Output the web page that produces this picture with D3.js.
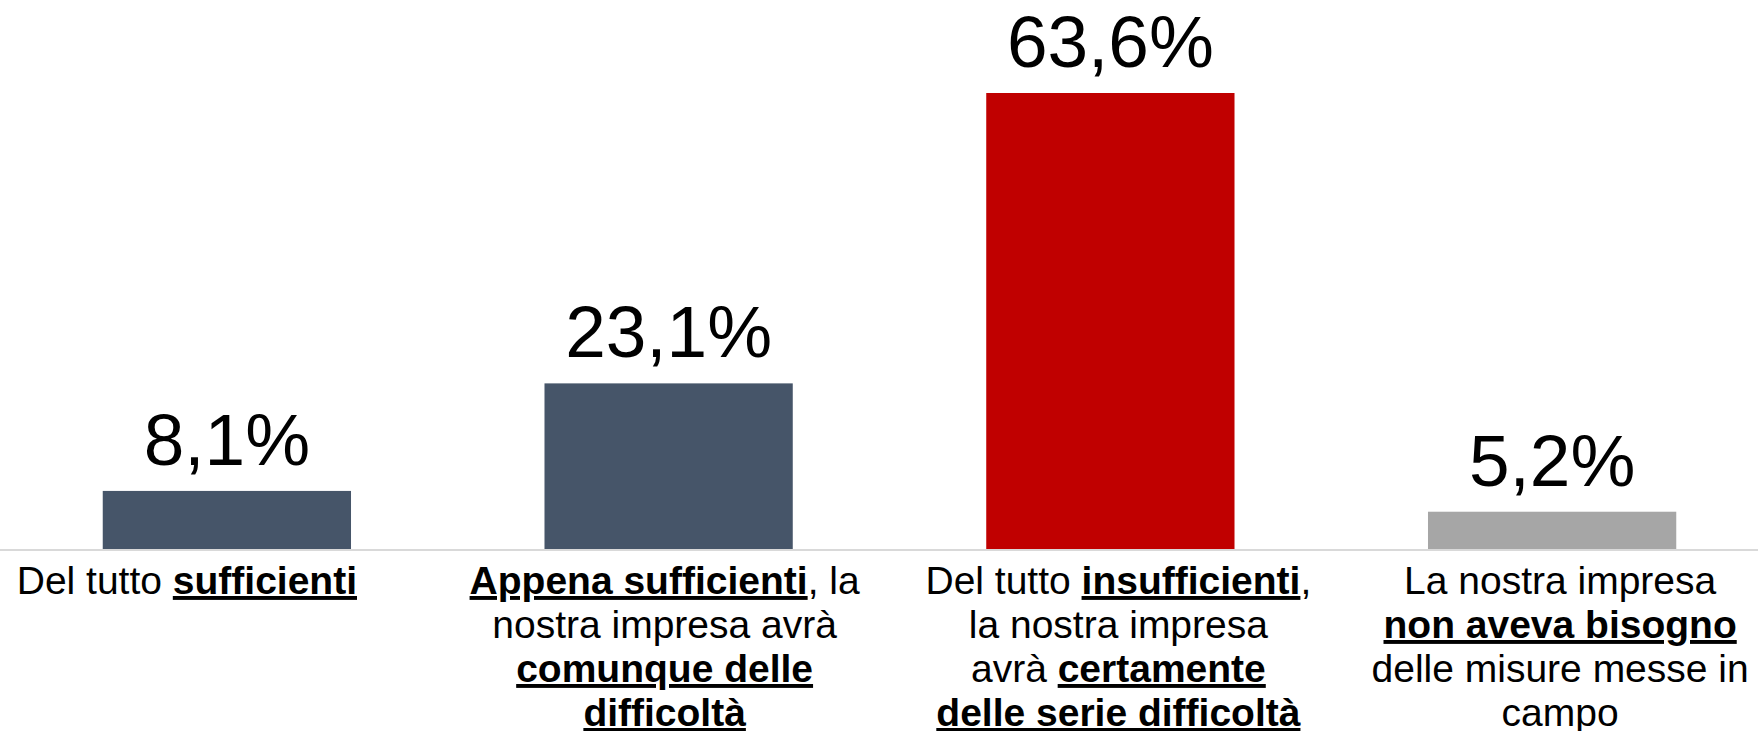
<!DOCTYPE html>
<html>
<head>
<meta charset="utf-8">
<script src="https://cdn.jsdelivr.net/npm/d3@7"></script>
<style>
  html, body { margin: 0; padding: 0; background: #fff; overflow: hidden; }
  svg { display: block; font-family: "Liberation Sans", Arial, sans-serif; }
  .value { font-size: 73px; fill: #000; }
  .cat { font-size: 39px; fill: #000; }
  .cat .b { font-weight: bold; text-decoration: underline; }
</style>
</head>
<body>
<div id="chart"></div>
<script>
// data
const categories = ["sufficienti", "appena", "insufficienti", "nonBisogno"]
const values = [8.1, 23.1, 63.6, 5.2]
const valueLabels = ["8,1%", "23,1%", "63,6%", "5,2%"]
const barColors = ["#465569", "#465569", "#C00000", "#A6A6A6"]

// category labels: lines of [text, bold]
const labelLines = [
  [[["Del tutto ", false], ["sufficienti", true]]],
  [[["Appena sufficienti", true], [", la", false]],
   [["nostra impresa avrà", false]],
   [["comunque delle", true]],
   [["difficoltà", true]]],
  [[["Del tutto ", false], ["insufficienti", true], [",", false]],
   [["la nostra impresa", false]],
   [["avrà ", false], ["certamente", true]],
   [["delle serie difficoltà", true]]],
  [[["La nostra impresa", false]],
   [["non aveva bisogno", true]],
   [["delle misure messe in", false]],
   [["campo", false]]]
]

// layout
const width = 1758
const height = 731
const baseY = 549
const topY = 93
const labelShift = [-40, -4, 8, 8]
const lineStep = 44
const firstLine = 594

const svg = d3.select("#chart")
  .append("svg")
    .attr("width", width)
    .attr("height", height)

const x = d3.scaleBand()
  .domain(categories)
  .range([6, 1773])
  .paddingInner(0.438)
  .paddingOuter(0.219)

const y = d3.scaleLinear()
  .domain([0, d3.max(values)])
  .range([baseY, topY])

// bars
svg.selectAll("rect.bar")
  .data(values)
  .enter().append("rect")
    .attr("class", "bar")
    .attr("x", (d, i) => x(categories[i]))
    .attr("y", d => y(d))
    .attr("width", x.bandwidth())
    .attr("height", d => y(0) - y(d))
    .attr("fill", (d, i) => barColors[i])

// baseline
svg.append("line")
  .attr("x1", 0)
  .attr("x2", width)
  .attr("y1", y(0) + 1)
  .attr("y2", y(0) + 1)
  .attr("stroke", "#D9D9D9")
  .attr("stroke-width", 2)

// value labels
svg.selectAll("text.value")
  .data(values)
  .enter().append("text")
    .attr("class", "value")
    .attr("text-anchor", "middle")
    .attr("x", (d, i) => x(categories[i]) + x.bandwidth() / 2)
    .attr("y", d => y(d) - 26)
    .text((d, i) => valueLabels[i])

// category labels
labelLines.forEach((lines, i) => {
  const cx = x(categories[i]) + x.bandwidth() / 2 + labelShift[i]
  lines.forEach((segs, j) => {
    const t = svg.append("text")
      .attr("class", "cat")
      .attr("text-anchor", "middle")
      .attr("x", cx)
      .attr("y", firstLine + j * lineStep)
    segs.forEach(s => {
      t.append("tspan")
        .attr("class", s[1] ? "b" : null)
        .text(s[0])
    })
  })
})
</script>
</body>
</html>
